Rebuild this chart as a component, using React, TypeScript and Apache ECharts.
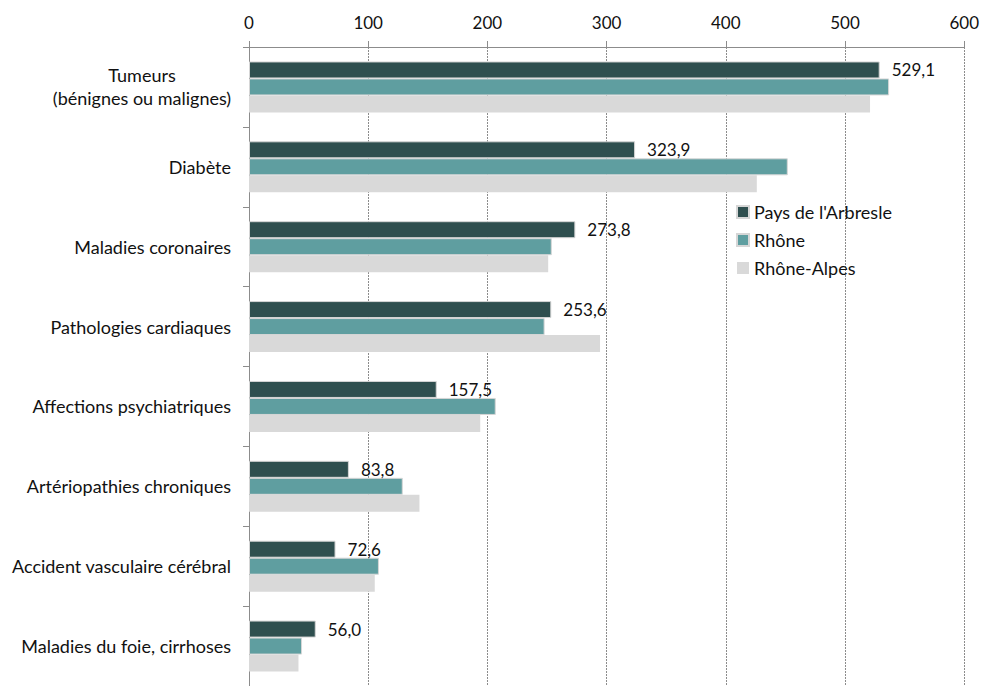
import React, { useEffect, useRef } from "react";
import * as echarts from "echarts";

const categories = [
  "Tumeurs\n(bénignes ou malignes)",
  "Diabète",
  "Maladies coronaires",
  "Pathologies cardiaques",
  "Affections psychiatriques",
  "Artériopathies chroniques",
  "Accident vasculaire cérébral",
  "Maladies du foie, cirrhoses",
];
const seriesNames = ["Pays de l'Arbresle", "Rhône", "Rhône-Alpes"];
const arbresle = [529.1, 323.9, 273.8, 253.6, 157.5, 83.8, 72.6, 56.0];
const rhone = [537, 452, 254, 248, 207, 129, 109, 44.5];
const rhoneAlpes = [521, 426, 251, 294.5, 194, 143, 105.5, 41.5];
const xTicks = { min: 0, max: 600, interval: 100 };

const FONT = "Lato, 'Open Sans', sans-serif";
const FS = 17;
const FS_CAT = 18;

export default function App() {
  const ref = useRef<HTMLDivElement>(null);
  useEffect(() => {
    if (!ref.current) return;
    const chart = echarts.init(ref.current, undefined, { renderer: "svg" });
    chart.setOption({
      animation: false,
      textStyle: { fontFamily: FONT },
      grid: { left: 249, right: 17, top: 47, bottom: -4, containLabel: false },
      legend: {
        orient: "vertical",
        left: 736,
        top: 203,
        padding: 0,
        itemWidth: 12,
        itemHeight: 12,
        itemGap: 10,
        icon: "rect",
        textStyle: { fontSize: FS_CAT, color: "#111", fontFamily: FONT },
        data: seriesNames,
      },
      xAxis: {
        type: "value",
        position: "top",
        min: xTicks.min,
        max: xTicks.max,
        interval: xTicks.interval,
        axisLine: { show: true, lineStyle: { color: "#8c8c8c", width: 1 } },
        axisTick: { show: true, length: 6, lineStyle: { color: "#8c8c8c" } },
        axisLabel: { fontSize: FS, color: "#111", margin: 16, fontFamily: FONT },
        splitLine: { show: true, lineStyle: { color: "#8c8c8c", type: [2, 1], width: 1 } },
      },
      yAxis: {
        type: "category",
        inverse: true,
        data: categories,
        axisLine: { show: true, lineStyle: { color: "#8c8c8c", width: 1 } },
        axisTick: { show: true, length: 6, interval: 0, lineStyle: { color: "#8c8c8c" } },
        axisLabel: {
          fontSize: FS_CAT,
          color: "#111",
          margin: 18,
          interval: 0,
          fontFamily: FONT,
          formatter: (v: string) => {
            if (v.indexOf("\n") >= 0) {
              return v
                .split("\n")
                .map((s) => "{c|" + s + "}")
                .join("\n");
            }
            return v;
          },
          rich: {
            c: { width: 178, align: "center", fontSize: FS_CAT, lineHeight: 23, color: "#111", fontFamily: FONT },
          },
        },
      },
      series: [
        {
          name: seriesNames[0],
          type: "bar",
          data: arbresle,
          barWidth: 17,
          barGap: "0%",
          itemStyle: { color: "#2F4F4F", borderColor: "#d6d6d6", borderWidth: 1 },
          label: {
            show: true,
            position: "right",
            distance: 12,
            fontSize: FS,
            color: "#111",
            fontFamily: FONT,
            formatter: (p: any) => Number(p.value).toFixed(1).replace(".", ","),
          },
        },
        {
          name: seriesNames[1],
          type: "bar",
          data: rhone,
          barWidth: 17,
          barGap: "0%",
          itemStyle: { color: "#5F9EA0", borderColor: "#d6d6d6", borderWidth: 1 },
        },
        {
          name: seriesNames[2],
          type: "bar",
          data: rhoneAlpes,
          barWidth: 17,
          barGap: "0%",
          itemStyle: { color: "#D9D9D9" },
        },
      ],
    });
    return () => chart.dispose();
  }, []);
  return (
    <div
      ref={ref}
      style={{ position: "fixed", left: 0, top: 0, width: 982, height: 686, background: "#fff" }}
    />
  );
}
